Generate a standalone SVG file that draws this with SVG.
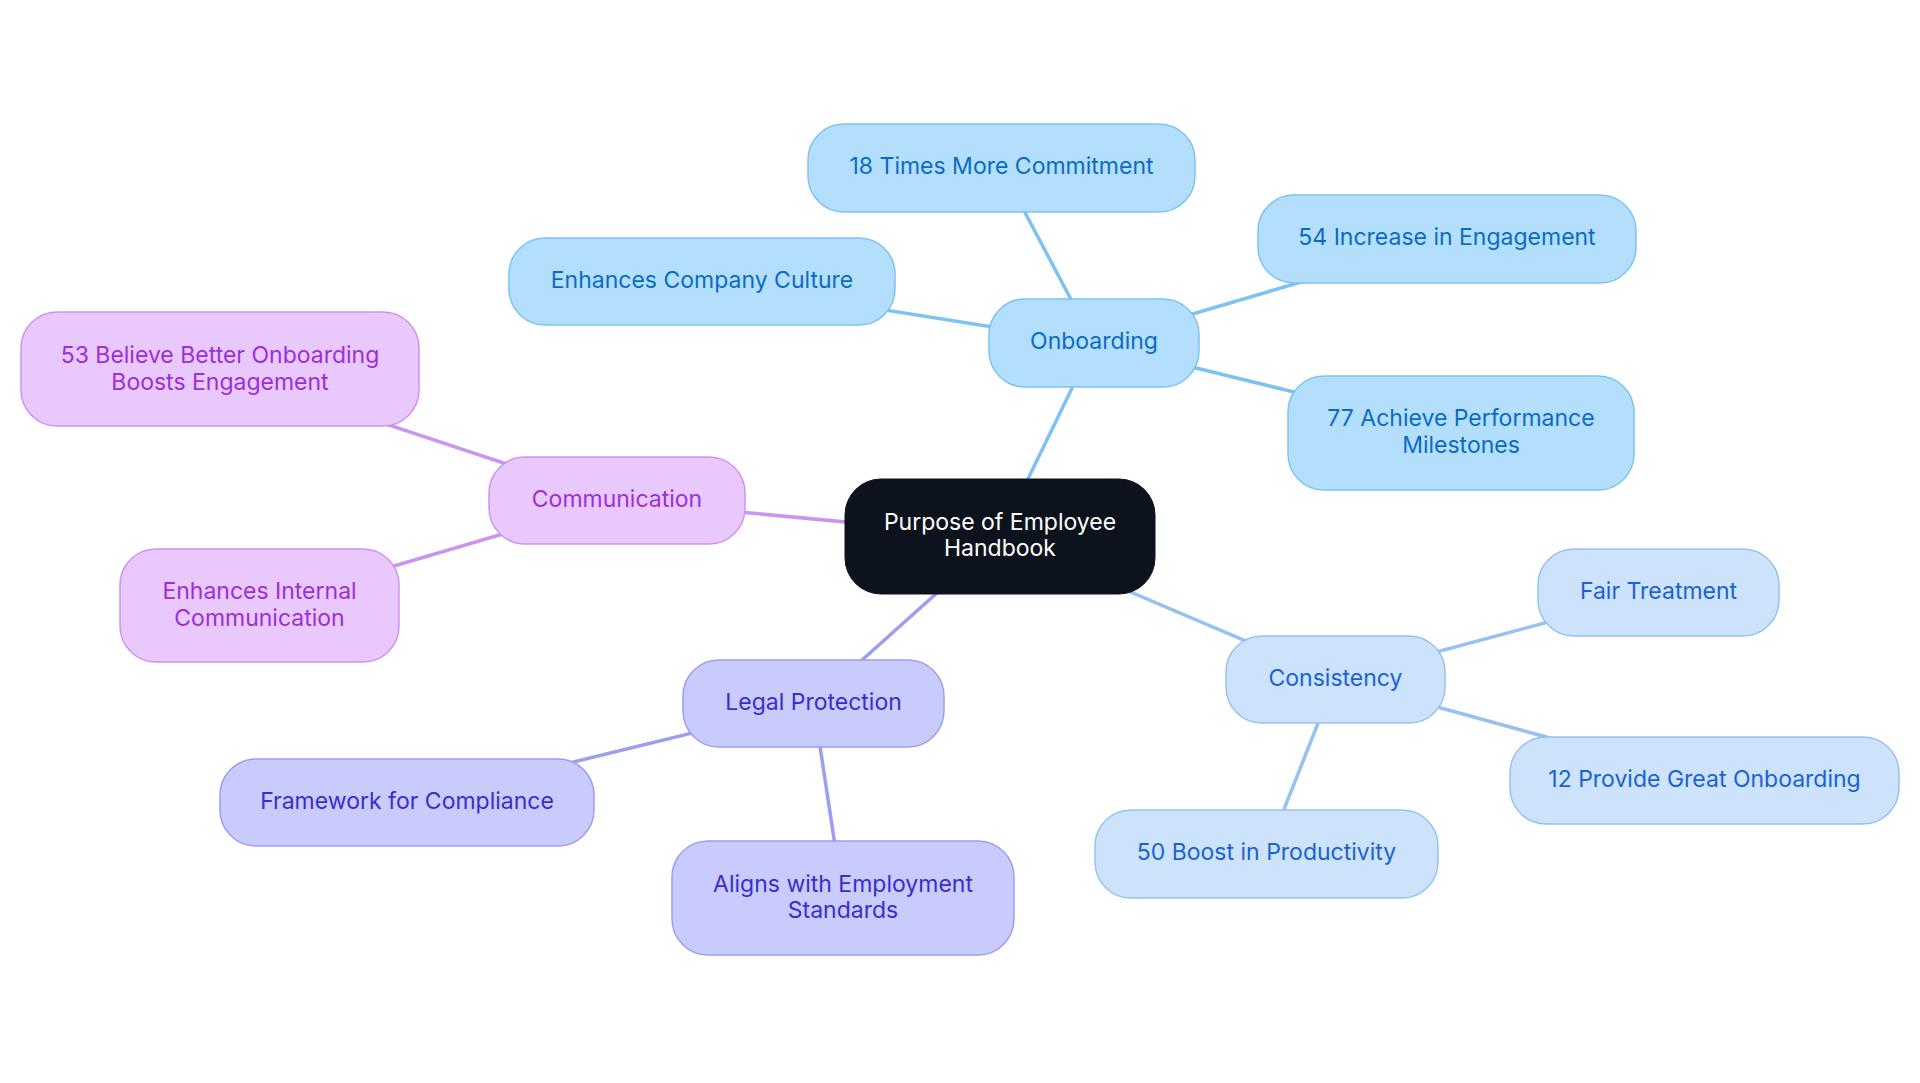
<svg xmlns="http://www.w3.org/2000/svg" width="1920" height="1083" viewBox="0 0 1920 1083">
<style>
text{font-family:Inter,"Noto Sans","Liberation Sans",sans-serif;font-size:23px;text-anchor:middle;dominant-baseline:central}
.ob rect{fill:#b3dffd;stroke:#7ec2f2;stroke-width:1.5}
.ob text{fill:#0b6bc4}
.co rect{fill:#cde3fb;stroke:#96c1f1;stroke-width:1.5}
.co text{fill:#1a62d3}
.cm rect{fill:#e8c8fd;stroke:#cb94f1;stroke-width:1.5}
.cm text{fill:#9b2fd8}
.lg rect{fill:#c9cbfd;stroke:#9c9ef1;stroke-width:1.5}
.lg text{fill:#3a2dcc}
.root rect{fill:#0c131c;stroke:#0c131c}
.root text{fill:#ffffff}
#edges line{stroke-width:3.5;fill:none}
.e-ob{stroke:#7ec2f2}.e-co{stroke:#96c1f1}.e-cm{stroke:#cb94f1}.e-lg{stroke:#9c9ef1}
</style>
<rect width="1920" height="1083" fill="#ffffff"/>
<g id="edges">
<line class="e-ob" x1="1000" y1="536.5" x2="1094" y2="343"/>
<line class="e-ob" x1="1094" y1="343" x2="1001.5" y2="168"/>
<line class="e-ob" x1="1094" y1="343" x2="702" y2="281"/>
<line class="e-ob" x1="1094" y1="343" x2="1447" y2="239"/>
<line class="e-ob" x1="1094" y1="343" x2="1461" y2="433"/>
<line class="e-cm" x1="1000" y1="536.5" x2="617" y2="500.5"/>
<line class="e-cm" x1="617" y1="500.5" x2="220" y2="369"/>
<line class="e-cm" x1="617" y1="500.5" x2="259.5" y2="605.5"/>
<line class="e-lg" x1="1000" y1="536.5" x2="813.5" y2="703.5"/>
<line class="e-lg" x1="813.5" y1="703.5" x2="407" y2="802.5"/>
<line class="e-lg" x1="813.5" y1="703.5" x2="843" y2="898"/>
<line class="e-co" x1="1000" y1="536.5" x2="1335.5" y2="679"/>
<line class="e-co" x1="1335.5" y1="679" x2="1658.5" y2="592.5"/>
<line class="e-co" x1="1335.5" y1="679" x2="1704.5" y2="780.5"/>
<line class="e-co" x1="1335.5" y1="679" x2="1266.5" y2="853.5"/>
</g>
<g id="root" class="root"><rect x="845" y="479" width="310" height="115" rx="36"/><text x="1000" y="522">Purpose of Employee</text><text x="1000" y="548">Handbook</text></g>
<g id="onboarding" class="ob"><rect x="989" y="299" width="210" height="88" rx="36"/><text x="1094" y="341">Onboarding</text></g>
<g id="n18" class="ob"><rect x="808" y="124" width="387" height="88" rx="36"/><text x="1001.5" y="166">18 Times More Commitment</text></g>
<g id="culture" class="ob"><rect x="509" y="238" width="386" height="87" rx="36"/><text x="702" y="280">Enhances Company Culture</text></g>
<g id="n54" class="ob"><rect x="1258" y="195" width="378" height="88" rx="36"/><text x="1447" y="237">54 Increase in Engagement</text></g>
<g id="n77" class="ob"><rect x="1288" y="376" width="346" height="114" rx="36"/><text x="1461" y="418">77 Achieve Performance</text><text x="1461" y="445">Milestones</text></g>
<g id="communication" class="cm"><rect x="489" y="457" width="256" height="87" rx="36"/><text x="617" y="499">Communication</text></g>
<g id="n53" class="cm"><rect x="21" y="312" width="398" height="114" rx="36"/><text x="220" y="355">53 Believe Better Onboarding</text><text x="220" y="382">Boosts Engagement</text></g>
<g id="internal" class="cm"><rect x="120" y="549" width="279" height="113" rx="36"/><text x="259.5" y="591">Enhances Internal</text><text x="259.5" y="618">Communication</text></g>
<g id="legal" class="lg"><rect x="683" y="660" width="261" height="87" rx="36"/><text x="813.5" y="702">Legal Protection</text></g>
<g id="framework" class="lg"><rect x="220" y="759" width="374" height="87" rx="36"/><text x="407" y="801">Framework for Compliance</text></g>
<g id="aligns" class="lg"><rect x="672" y="841" width="342" height="114" rx="36"/><text x="843" y="884">Aligns with Employment</text><text x="843" y="910">Standards</text></g>
<g id="consistency" class="co"><rect x="1226" y="636" width="219" height="87" rx="36"/><text x="1335.5" y="678">Consistency</text></g>
<g id="fair" class="co"><rect x="1538" y="549" width="241" height="87" rx="36"/><text x="1658.5" y="591">Fair Treatment</text></g>
<g id="n12" class="co"><rect x="1510" y="737" width="389" height="87" rx="36"/><text x="1704.5" y="779">12 Provide Great Onboarding</text></g>
<g id="n50" class="co"><rect x="1095" y="810" width="343" height="88" rx="36"/><text x="1266.5" y="852">50 Boost in Productivity</text></g>
</svg>
